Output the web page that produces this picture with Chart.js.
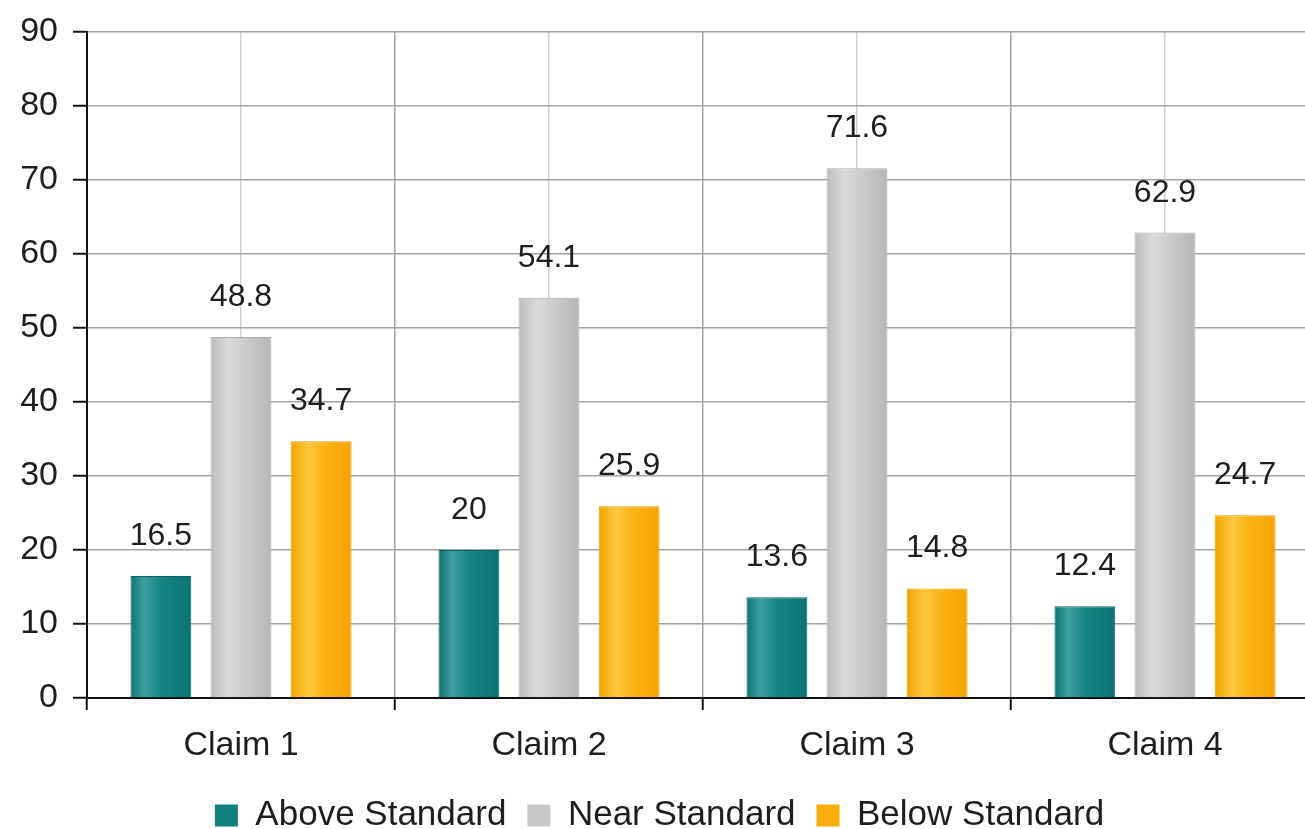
<!DOCTYPE html>
<html>
<head>
<meta charset="utf-8">
<script src="https://cdn.jsdelivr.net/npm/chart.js@4"></script>
<style>
  html, body { margin: 0; padding: 0; background: #ffffff; overflow: hidden; }
  #wrap { width: 1325px; height: 829px; position: relative; }
</style>
</head>
<body>
<div id="wrap"><canvas id="c"></canvas></div>
<script>
const categories = ["Claim 1", "Claim 2", "Claim 3", "Claim 4"];
const seriesNames = ["Above Standard", "Near Standard", "Below Standard"];
const aboveStandard = [16.5, 20, 13.6, 12.4];
const nearStandard = [48.8, 54.1, 71.6, 62.9];
const belowStandard = [34.7, 25.9, 14.8, 24.7];
const yTicks = [0, 10, 20, 30, 40, 50, 60, 70, 80, 90];

const FONT = "'Liberation Sans', Arial, Helvetica, sans-serif";

const gradStops = [
  [[0, '#0c7170'], [0.22, '#3d9f9e'], [0.5, '#158584'], [1, '#0b7371']],
  [[0, '#bdbdbd'], [0.3, '#dadada'], [0.6, '#cacaca'], [1, '#b6b6b6']],
  [[0, '#f4a400'], [0.3, '#ffc840'], [0.55, '#fbb313'], [1, '#f5a400']]
];
const solid = ['#128281', '#c8c8c8', '#f9ad0a'];
const borders = ['#0b6462', '#ababab', '#e39a00'];

const gradientPlugin = {
  id: 'barGradient',
  beforeDatasetsDraw(chart) {
    const ctx = chart.ctx;
    chart.data.datasets.forEach((ds, di) => {
      const meta = chart.getDatasetMeta(di);
      meta.data.forEach(el => {
        const x0 = el.x - el.width / 2, x1 = el.x + el.width / 2;
        const g = ctx.createLinearGradient(x0, 0, x1, 0);
        gradStops[di].forEach(s => g.addColorStop(s[0], s[1]));
        el.options.backgroundColor = g;
      });
    });
  }
};

const labelPlugin = {
  id: 'valueLabels',
  afterDatasetsDraw(chart) {
    const ctx = chart.ctx;
    ctx.save();
    ctx.font = "32px " + FONT;
    ctx.fillStyle = '#1e1e1e';
    ctx.textAlign = 'center';
    ctx.textBaseline = 'alphabetic';
    chart.data.datasets.forEach((ds, di) => {
      const meta = chart.getDatasetMeta(di);
      meta.data.forEach((el, i) => {
        ctx.fillText(String(ds.data[i]), el.x, el.y - 31);
      });
    });
    ctx.restore();
  }
};

const values = [aboveStandard, nearStandard, belowStandard];

new Chart(document.getElementById('c'), {
  type: 'bar',
  data: {
    labels: categories,
    datasets: seriesNames.map((n, i) => ({
      label: n,
      data: values[i],
      backgroundColor: (c) => solid[c.datasetIndex],
      borderColor: borders[i],
      borderWidth: 1,
      categoryPercentage: 0.78,
      barPercentage: 0.76,
      xAxisID: 'x',
      yAxisID: 'y'
    }))
  },
  options: {
    responsive: true,
    maintainAspectRatio: false,
    animation: false,
    devicePixelRatio: 1,
    layout: { padding: { left: 0, right: 6, top: 32, bottom: -14 } },
    plugins: {
      tooltip: { enabled: false },
      legend: {
        position: 'bottom',
        labels: {
          font: { family: FONT, size: 35 },
          color: '#1e1e1e',
          boxWidth: 23,
          boxHeight: 22,
          padding: 21,
          generateLabels(chart) {
            return chart.data.datasets.map((ds, i) => ({
              text: ds.label,
              fillStyle: solid[i],
              strokeStyle: solid[i],
              lineWidth: 0,
              hidden: false,
              datasetIndex: i,
              fontColor: '#1e1e1e'
            }));
          }
        }
      }
    },
    scales: {
      x: {
        type: 'category',
        position: 'bottom',
        offset: true,
        grid: {
          offset: true,
          color: '#a3a3a3',
          lineWidth: 1.5,
          tickColor: '#111111',
          tickLength: 12,
          tickWidth: 2
        },
        border: { display: true, color: '#111111', width: 2 },
        ticks: {
          font: { family: FONT, size: 34 },
          color: '#1e1e1e',
          padding: 15
        },
        afterFit(scale) { scale.height = 79; }
      },
      xc: {
        type: 'category',
        position: 'top',
        offset: true,
        labels: categories,
        grid: { offset: false, color: '#cfcfcf', lineWidth: 1.5, drawTicks: false },
        border: { display: false },
        ticks: { display: false },
        afterFit(scale) { scale.height = 0; }
      },
      y: {
        min: 0,
        max: 90,
        afterBuildTicks(scale) { scale.ticks = yTicks.map(v => ({ value: v })); },
        grid: {
          color: '#a3a3a3',
          lineWidth: 1.5,
          tickColor: '#111111',
          tickLength: 14,
          tickWidth: 2
        },
        border: { display: true, color: '#111111', width: 2 },
        ticks: {
          font: { family: FONT, size: 34 },
          color: '#1e1e1e',
          padding: 15
        },
        afterFit(scale) { scale.width = 87; scale.paddingTop = 0; scale.paddingBottom = 0; }
      }
    }
  },
  plugins: [gradientPlugin, labelPlugin]
});
</script>
</body>
</html>
